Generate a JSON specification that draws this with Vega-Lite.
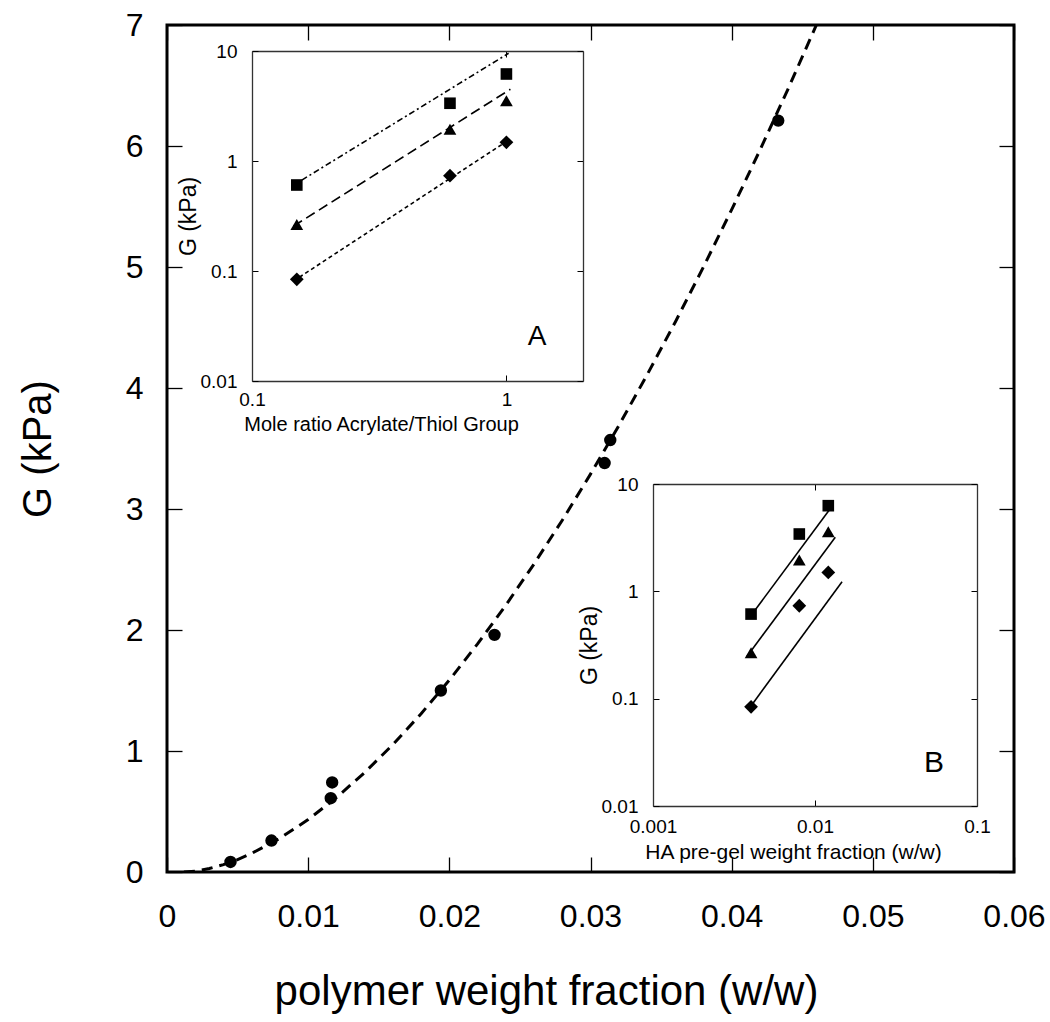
{
  "$schema": "https://vega.github.io/schema/vega-lite/v6.json",
  "width": 847,
  "height": 847,
  "autosize": {"type": "none"},
  "padding": {"left": 167, "top": 25, "right": 36, "bottom": 150},
  "background": "white",
  "config": {
    "view": {"stroke": "black", "strokeWidth": 3},
    "font": "Liberation Sans",
    "axis": {
      "grid": false,
      "labelFlush": false,
      "labelOverlap": false,
      "labelColor": "black",
      "titleColor": "black",
      "tickColor": "black",
      "domainColor": "#333333",
      "titleFontWeight": "normal",
      "labelFont": "Liberation Sans",
      "titleFont": "Liberation Sans"
    }
  },
  "datasets": {
    "main": [
      {"w": 0.0045, "g": 0.083},
      {"w": 0.0074, "g": 0.26},
      {"w": 0.0116, "g": 0.61},
      {"w": 0.0117, "g": 0.74},
      {"w": 0.0194, "g": 1.5},
      {"w": 0.0232, "g": 1.96},
      {"w": 0.031, "g": 3.38},
      {"w": 0.0314, "g": 3.57},
      {"w": 0.0433, "g": 6.21}
    ],
    "curve": [
      {"w": 0.0012, "g": 0},
      {"w": 0.002, "g": 0.007},
      {"w": 0.003, "g": 0.029},
      {"w": 0.004, "g": 0.061},
      {"w": 0.005, "g": 0.103},
      {"w": 0.006, "g": 0.154},
      {"w": 0.008, "g": 0.279},
      {"w": 0.010, "g": 0.433},
      {"w": 0.012, "g": 0.615},
      {"w": 0.014, "g": 0.822},
      {"w": 0.016, "g": 1.053},
      {"w": 0.018, "g": 1.308},
      {"w": 0.020, "g": 1.586},
      {"w": 0.022, "g": 1.885},
      {"w": 0.024, "g": 2.205},
      {"w": 0.026, "g": 2.546},
      {"w": 0.028, "g": 2.907},
      {"w": 0.030, "g": 3.288},
      {"w": 0.032, "g": 3.688},
      {"w": 0.034, "g": 4.107},
      {"w": 0.036, "g": 4.544},
      {"w": 0.038, "g": 5.0},
      {"w": 0.040, "g": 5.474},
      {"w": 0.042, "g": 5.965},
      {"w": 0.044, "g": 6.473},
      {"w": 0.046, "g": 7.0}
    ],
    "insetA": [
      {"ratio": 0.15, "g": 0.605, "series": "square"},
      {"ratio": 0.6, "g": 3.35, "series": "square"},
      {"ratio": 1.0, "g": 6.18, "series": "square"},
      {"ratio": 0.15, "g": 0.265, "series": "triangle"},
      {"ratio": 0.6, "g": 1.94, "series": "triangle"},
      {"ratio": 1.0, "g": 3.53, "series": "triangle"},
      {"ratio": 0.15, "g": 0.084, "series": "diamond"},
      {"ratio": 0.6, "g": 0.736, "series": "diamond"},
      {"ratio": 1.0, "g": 1.48, "series": "diamond"}
    ],
    "insetALines": [
      {"ratio": 0.157, "g": 0.671, "series": "square"},
      {"ratio": 1.02, "g": 9.53, "series": "square"},
      {"ratio": 0.1456, "g": 0.256, "series": "triangle"},
      {"ratio": 1.037, "g": 4.49, "series": "triangle"},
      {"ratio": 0.1456, "g": 0.081, "series": "diamond"},
      {"ratio": 1.02, "g": 1.55, "series": "diamond"}
    ],
    "insetB": [
      {"frac": 0.00403, "g": 0.614, "series": "square"},
      {"frac": 0.0080, "g": 3.42, "series": "square"},
      {"frac": 0.01208, "g": 6.28, "series": "square"},
      {"frac": 0.00403, "g": 0.268, "series": "triangle"},
      {"frac": 0.0080, "g": 1.96, "series": "triangle"},
      {"frac": 0.01208, "g": 3.59, "series": "triangle"},
      {"frac": 0.00403, "g": 0.084, "series": "diamond"},
      {"frac": 0.0080, "g": 0.734, "series": "diamond"},
      {"frac": 0.01208, "g": 1.5, "series": "diamond"}
    ],
    "insetBLines": [
      {"frac": 0.00427, "g": 0.67, "series": "square"},
      {"frac": 0.01225, "g": 5.73, "series": "square"},
      {"frac": 0.00379, "g": 0.246, "series": "triangle"},
      {"frac": 0.01334, "g": 3.19, "series": "triangle"},
      {"frac": 0.00406, "g": 0.087, "series": "diamond"},
      {"frac": 0.01469, "g": 1.23, "series": "diamond"}
    ],
    "labelA": [{"ratio": 1.32, "g": 0.0212, "label": "A"}],
    "labelB": [{"frac": 0.0543, "g": 0.0207, "label": "B"}]
  },
  "layer": [
    {
      "layer": [
        {
          "data": {"name": "main"},
          "mark": {"type": "point", "shape": "circle", "filled": true, "color": "black", "size": 154, "opacity": 1},
          "encoding": {
            "x": {
              "field": "w", "type": "quantitative",
              "scale": {"domain": [0, 0.06], "nice": false, "zero": false},
              "axis": {
                "orient": "bottom", "values": [0, 0.01, 0.02, 0.03, 0.04, 0.05, 0.06], "format": "~g",
                "tickSize": -15, "tickWidth": 1.3, "domain": false,
                "labelFontSize": 32, "labelPadding": 44,
                "title": "polymer weight fraction (w/w)", "titleFontSize": 42, "titlePadding": 39,
                "titleX": 379
              }
            },
            "y": {
              "field": "g", "type": "quantitative",
              "scale": {"domain": [0, 7], "nice": false},
              "axis": {
                "orient": "left", "values": [0, 1, 2, 3, 4, 5, 6, 7],
                "tickSize": -15, "tickWidth": 1.3, "domain": false,
                "labelFontSize": 32, "labelPadding": 39,
                "title": "G (kPa)", "titleFontSize": 40, "titlePadding": 67
              }
            }
          }
        },
        {
          "data": {"name": "curve"},
          "mark": {"type": "line", "color": "black", "strokeWidth": 3, "strokeDash": [11, 7], "clip": true},
          "encoding": {
            "x": {
              "field": "w", "type": "quantitative",
              "axis": {"orient": "top", "values": [0, 0.01, 0.02, 0.03, 0.04, 0.05, 0.06], "labels": false, "tickSize": -15, "tickWidth": 1.3, "domain": false, "title": null}
            },
            "y": {
              "field": "g", "type": "quantitative",
              "axis": {"orient": "right", "values": [0, 1, 2, 3, 4, 5, 6, 7], "labels": false, "tickSize": -15, "tickWidth": 1.3, "domain": false, "title": null}
            }
          }
        }
      ],
      "resolve": {"axis": {"x": "independent", "y": "independent"}}
    },
    {
      "layer": [
        {
          "data": {"name": "insetALines"},
          "mark": {"type": "line", "color": "black", "strokeWidth": 1.6},
          "encoding": {
            "x": {
              "field": "ratio", "type": "quantitative",
              "scale": {"type": "log", "domain": [0.1, 2], "range": [85, 416], "nice": false},
              "axis": {
                "orient": "bottom", "offset": -491, "values": [0.1, 1], "format": "~g",
                "tickSize": -6, "domainWidth": 1.3, "labelFontSize": 19, "labelPadding": 15,
                "title": "Mole ratio Acrylate/Thiol Group", "titleFontSize": 20, "titlePadding": 5,
                "titleX": 214
              }
            },
            "y": {
              "field": "g", "type": "quantitative",
              "scale": {"type": "log", "domain": [0.01, 10], "range": [356, 26], "nice": false},
              "axis": {
                "orient": "left", "offset": -85, "values": [0.01, 0.1, 1, 10], "format": "~g",
                "tickSize": -6, "domainWidth": 1.3, "labelFontSize": 19, "labelPadding": 21,
                "title": "G (kPa)", "titleFontSize": 23, "titlePadding": 0
              }
            },
            "detail": {"field": "series"},
            "strokeDash": {
              "field": "series", "type": "nominal",
              "scale": {"domain": ["square", "triangle", "diamond"], "range": [[6, 3, 2, 3], [10, 5], [4, 3]]},
              "legend": null
            }
          }
        },
        {
          "data": {"name": "insetA"},
          "mark": {"type": "point", "filled": true, "color": "black", "opacity": 1},
          "encoding": {
            "x": {"field": "ratio", "type": "quantitative", "axis": {"orient": "top", "offset": -26, "values": [0.1, 1], "labels": false, "tickSize": -6, "domainWidth": 1.3, "title": null}},
            "y": {"field": "g", "type": "quantitative", "axis": {"orient": "right", "offset": -431, "values": [0.01, 0.1, 1, 10], "labels": false, "tickSize": -6, "domainWidth": 1.3, "title": null}},
            "shape": {
              "field": "series", "type": "nominal",
              "scale": {"domain": ["square", "triangle", "diamond"], "range": ["square", "triangle-up", "diamond"]},
              "legend": null
            },
            "size": {
              "field": "series", "type": "nominal",
              "scale": {"domain": ["square", "triangle", "diamond"], "range": [135, 190, 180]},
              "legend": null
            }
          }
        },
        {
          "data": {"name": "labelA"},
          "mark": {"type": "text", "fontSize": 28, "color": "black", "align": "center", "baseline": "alphabetic"},
          "encoding": {
            "x": {"field": "ratio", "type": "quantitative", "axis": null},
            "y": {"field": "g", "type": "quantitative", "axis": null},
            "text": {"field": "label"}
          }
        }
      ],
      "resolve": {"axis": {"x": "independent", "y": "independent"}}
    },
    {
      "layer": [
        {
          "data": {"name": "insetBLines"},
          "mark": {"type": "line", "color": "black", "strokeWidth": 1.6},
          "encoding": {
            "x": {
              "field": "frac", "type": "quantitative",
              "scale": {"type": "log", "domain": [0.001, 0.1], "range": [486, 810], "nice": false},
              "axis": {
                "orient": "bottom", "offset": -66, "values": [0.001, 0.01, 0.1], "format": "~g",
                "tickSize": -6, "domainWidth": 1.3, "labelFontSize": 19, "labelPadding": 17,
                "title": "HA pre-gel weight fraction (w/w)", "titleFontSize": 21, "titlePadding": 5,
                "titleX": 626
              }
            },
            "y": {
              "field": "g", "type": "quantitative",
              "scale": {"type": "log", "domain": [0.01, 10], "range": [781, 459], "nice": false},
              "axis": {
                "orient": "left", "offset": -486, "values": [0.01, 0.1, 1, 10], "format": "~g",
                "tickSize": -6, "domainWidth": 1.3, "labelFontSize": 19, "labelPadding": 21,
                "title": "G (kPa)", "titleFontSize": 23, "titlePadding": 0
              }
            },
            "detail": {"field": "series"}
          }
        },
        {
          "data": {"name": "insetB"},
          "mark": {"type": "point", "filled": true, "color": "black", "opacity": 1},
          "encoding": {
            "x": {"field": "frac", "type": "quantitative", "axis": {"orient": "top", "offset": -459, "values": [0.001, 0.01, 0.1], "labels": false, "tickSize": -6, "domainWidth": 1.3, "title": null}},
            "y": {"field": "g", "type": "quantitative", "axis": {"orient": "right", "offset": -37, "values": [0.01, 0.1, 1, 10], "labels": false, "tickSize": -6, "domainWidth": 1.3, "title": null}},
            "shape": {
              "field": "series", "type": "nominal",
              "scale": {"domain": ["square", "triangle", "diamond"], "range": ["square", "triangle-up", "diamond"]},
              "legend": null
            },
            "size": {
              "field": "series", "type": "nominal",
              "scale": {"domain": ["square", "triangle", "diamond"], "range": [135, 190, 180]},
              "legend": null
            }
          }
        },
        {
          "data": {"name": "labelB"},
          "mark": {"type": "text", "fontSize": 30, "color": "black", "align": "center", "baseline": "alphabetic"},
          "encoding": {
            "x": {"field": "frac", "type": "quantitative", "axis": null},
            "y": {"field": "g", "type": "quantitative", "axis": null},
            "text": {"field": "label"}
          }
        }
      ],
      "resolve": {"axis": {"x": "independent", "y": "independent"}}
    }
  ],
  "resolve": {"scale": {"x": "independent", "y": "independent"}}
}
